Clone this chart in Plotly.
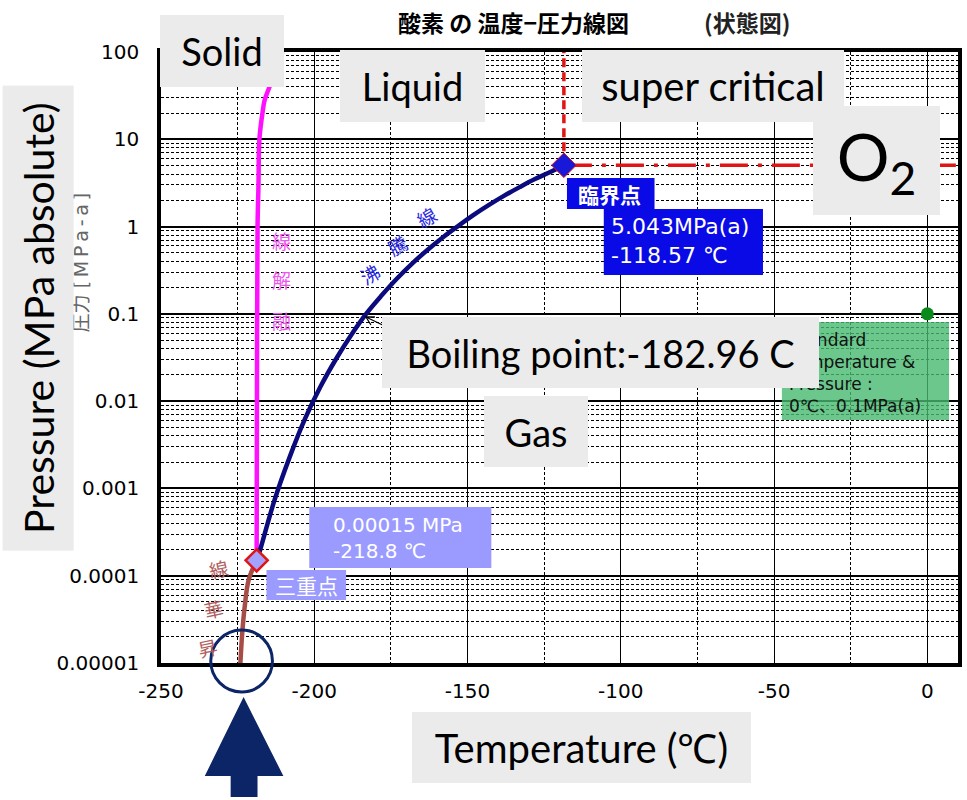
import plotly.graph_objects as go

# Oxygen temperature-pressure phase boundaries (temperature in °C, pressure in MPa absolute)
boil_t = [-218.8, -218.0, -213.0, -208.0, -203.0, -198.0, -193.0, -188.0, -182.96, -178.0,
          -173.0, -168.0, -163.0, -158.0, -153.0, -148.0, -143.0, -138.0, -133.0, -128.0,
          -123.0, -118.57]
boil_p = [0.00015, 0.00018, 0.00073, 0.0023, 0.0063, 0.0146, 0.030, 0.057, 0.101325, 0.163,
          0.254, 0.379, 0.543, 0.756, 1.02, 1.36, 1.77, 2.26, 2.83, 3.50,
          4.22, 5.043]
melt_t = [-218.8, -218.7, -218.5, -218.2, -217.9, -216.9, -216.2, -214.6, -212.5, -210.4]
melt_p = [0.00015, 0.01, 1.0, 3.0, 10.0, 20.0, 28.0, 40.0, 65.0, 100.0]
subl_t = [-218.8, -221.4, -222.7, -223.5, -224.1]
subl_p = [0.00015, 0.0000895, 0.000044, 0.000022, 0.00001]

triple_t, triple_p = -218.8, 0.00015
crit_t, crit_p = -118.57, 5.043
stp_t, stp_p = 0.0, 0.1

x_range = [-250, 10]
y_range_exp = [-5, 2]
x_tickvals = [-250, -200, -150, -100, -50, 0]
x_ticktext = ["-250", "-200", "-150", "-100", "-50", "0"]
y_tickvals = [0.00001, 0.0001, 0.001, 0.01, 0.1, 1, 10, 100]
y_ticktext = ["0.00001", "0.0001", "0.001", "0.01", "0.1", "1", "10", "100"]

# plot-area pixel frame, used to place boxes and decorations
L, R, T, B = 161, 962, 52, 663


def px(x):
    return (x - L) / (R - L)


def py(y):
    return (B - y) / (B - T)


def pixel_path(points, close=True):
    d = "M " + " L ".join(f"{px(a):.5f},{py(b):.5f}" for a, b in points)
    return d + (" Z" if close else "")


fig = go.Figure()

fig.add_trace(go.Scatter(x=subl_t, y=subl_p, mode="lines", line=dict(color="#a64d48", width=4.5, shape="spline"),
                         hoverinfo="skip"))
fig.add_trace(go.Scatter(x=melt_t, y=melt_p, mode="lines", line=dict(color="#ff11ff", width=4.5, shape="spline"),
                         hoverinfo="skip"))
fig.add_trace(go.Scatter(x=boil_t, y=boil_p, mode="lines", line=dict(color="#0b0b7e", width=4.5, shape="spline"),
                         hoverinfo="skip"))
# critical isotherm / isobar
fig.add_trace(go.Scatter(x=[crit_t, crit_t], y=[crit_p, 10 ** y_range_exp[1]], mode="lines",
                         line=dict(color="#e01515", width=3.5, dash="9px,5px"), hoverinfo="skip"))
fig.add_trace(go.Scatter(x=[crit_t, x_range[1]], y=[crit_p, crit_p], mode="lines",
                         line=dict(color="#e01515", width=3.5, dash="28px,10px,4px,10px"), hoverinfo="skip"))
fig.add_trace(go.Scatter(x=[triple_t], y=[triple_p], mode="markers",
                         marker=dict(symbol="diamond", size=17, color="#a3a3ff",
                                     line=dict(color="#e01515", width=2.5)), hoverinfo="skip"))
fig.add_trace(go.Scatter(x=[crit_t], y=[crit_p], mode="markers",
                         marker=dict(symbol="diamond", size=19, color="#1818d8",
                                     line=dict(color="#e01515", width=1)), hoverinfo="skip"))
fig.add_trace(go.Scatter(x=[stp_t], y=[stp_p], mode="markers",
                         marker=dict(symbol="circle", size=13, color="#0b8a1c"), hoverinfo="skip"))

minor_y = [m * 10 ** e for e in range(y_range_exp[0], y_range_exp[1]) for m in range(2, 10)]

TICKFONT = dict(family="DejaVu Sans", size=20, color="black")
fig.update_xaxes(range=x_range, tickmode="array", tickvals=x_tickvals, ticktext=x_ticktext, ticks="",
                 showgrid=True, gridcolor="black", gridwidth=1.3,
                 minor=dict(tickmode="array", tickvals=[-225, -175, -125, -75, -25], showgrid=True,
                            gridcolor="black", gridwidth=1, griddash="3px,2px", ticks=""),
                 showline=True, linecolor="black", linewidth=3.5, mirror=True,
                 zeroline=False, ticklabelstandoff=7, tickfont=TICKFONT)
fig.update_yaxes(type="log", range=y_range_exp, tickmode="array", tickvals=y_tickvals, ticktext=y_ticktext,
                 ticks="", showgrid=True, gridcolor="black", gridwidth=1.6,
                 minor=dict(tickmode="array", tickvals=minor_y, showgrid=True,
                            gridcolor="black", gridwidth=1, griddash="3px,2px", ticks=""),
                 showline=True, linecolor="black", linewidth=3.5, mirror=True,
                 zeroline=False, ticklabelstandoff=14, tickfont=TICKFONT)

ann = []
shapes = []


def label(x, y, text, size, color, family="Noto Sans CJK JP", angle=0, weight="normal",
          xanchor="center", align="center"):
    ann.append(dict(x=px(x), y=py(y), xref="paper", yref="paper", xanchor=xanchor, yanchor="middle",
                    text=text, showarrow=False, textangle=angle, align=align, borderpad=0,
                    font=dict(family=family, size=size, color=color, weight=weight)))


def rect(x0, y0, x1, y1, color):
    shapes.append(dict(type="rect", xref="paper", yref="paper", x0=px(x0), x1=px(x1),
                       y0=py(y1), y1=py(y0), fillcolor=color, line=dict(width=0), layer="above"))


def box(x0, y0, x1, y1, text, size, bg, angle=0):
    w, h = x1 - x0, y1 - y0
    if angle:
        w, h = h, w
    ann.append(dict(x=px((x0 + x1) / 2), y=py((y0 + y1) / 2), xref="paper", yref="paper",
                    xanchor="center", yanchor="middle", text=text, showarrow=False,
                    width=w, height=h, borderpad=0, borderwidth=0,
                    bgcolor=bg, align="center", valign="middle", textangle=angle,
                    font=dict(family="Lato", size=size, color="black")))


# title and original axis caption
label(515, 22, "酸素 の 温度−圧力線図", 23, "black", weight="bold")
label(750, 22, "(状態図)", 23, "#222222", weight="bold")
label(81, 262, "圧力 " + "\u2009".join("[MPa-a]"), 19, "#666666", family="DejaVu Sans, Noto Sans CJK JP",
      angle=-90)

# curve names
for (cx, cy), ch in zip([(282, 320), (282, 279), (282, 240)], "融解線"):
    label(cx, cy, ch, 19, "#ee55ee")
for (cx, cy), ch in zip([(371, 273), (399, 245), (428, 217)], "沸騰線"):
    label(cx, cy, ch, 19, "#2a2ae0", angle=-30)
for (cx, cy), ch in zip([(208, 647), (214, 608), (219, 568)], "昇華線"):
    label(cx, cy, ch, 19, "#b06060", angle=-12)

# small pointer at the normal boiling point
shapes.append(dict(type="path", path=pixel_path([(367, 317), (392, 329)], close=False),
                   xref="paper", yref="paper", line=dict(color="black", width=1.3), layer="above"))
shapes.append(dict(type="path", path=pixel_path([(372, 325), (367, 317), (376, 317)], close=False),
                   xref="paper", yref="paper", line=dict(color="black", width=1.3), layer="above"))

# standard temperature & pressure note
rect(785, 322, 953, 420, "rgba(70,185,110,0.80)")
label(790, 373.5, "Standard<br>Temperature &amp;<br>Pressure :<br>0℃、0.1MPa(a)", 17, "#111111",
      family="DejaVu Sans, Noto Sans CJK JP", xanchor="left", align="left")

# triple point and critical point tags
rect(310, 507, 493, 568, "#9b9bff")
label(333, 537.5, "0.00015 MPa<br>-218.8 ℃", 20, "white", family="DejaVu Sans",
      xanchor="left", align="left")
rect(267, 570, 347, 600, "#9b9bff")
label(307, 585, "三重点", 21, "white")
rect(569, 178, 657, 209, "#0a0ae6")
label(612, 193.5, "臨界点", 21, "white", weight="bold")
rect(606, 209, 766, 275, "#0a0ae6")
label(612, 241, "5.043MPa(a)<br>-118.57 ℃", 22, "white", family="DejaVu Sans",
      xanchor="left", align="left")

# region labels
GRAY = "#ebebeb"
box(160, 15, 284, 87, "Solid", 38, GRAY)
box(341, 50, 486, 122, "Liquid", 38, GRAY)
box(585, 50, 847, 122, "super critical", 40, GRAY)
box(817, 106, 944, 215, "O<sub>2</sub>", 66, GRAY)
box(384, 317, 821, 388, "Boiling point:-182.96 C", 38, GRAY)
box(486, 396, 590, 467, "Gas", 38, GRAY)
box(2, 86, 73, 551, "Pressure (MPa absolute)", 41, GRAY, angle=-90)
box(414, 712, 753, 783, "Temperature (℃)", 40, GRAY)

# pointer arrow and circle marking the low-pressure end of the sublimation line
NAVY = "#0c2566"
arrow_pts = [(244, 697), (284, 776), (258, 776), (258, 797), (231, 797), (231, 776), (205, 776)]
shapes.append(dict(type="path", path=pixel_path(arrow_pts), xref="paper", yref="paper",
                   fillcolor=NAVY, line=dict(width=0)))
shapes.append(dict(type="circle", xref="paper", yref="paper", x0=px(211), x1=px(273), y0=py(692), y1=py(630),
                   line=dict(color=NAVY, width=3)))

fig.update_layout(width=967, height=800, margin=dict(l=L, r=967 - R, t=T, b=800 - B),
                  paper_bgcolor="white", plot_bgcolor="white", showlegend=False,
                  annotations=ann, shapes=shapes)

fig.write_html("out.html")
